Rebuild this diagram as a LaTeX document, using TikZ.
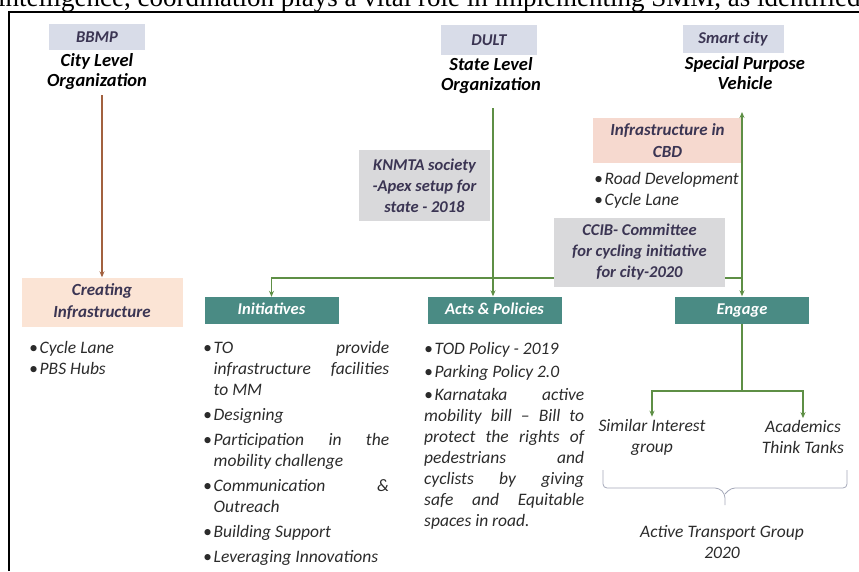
\documentclass[tikz,border=0pt]{standalone}
\usepackage{fontspec}
\setmainfont{Carlito}
\newfontfamily\pageserif{Liberation Serif}
\usepackage{xcolor}
\usetikzlibrary{arrows.meta, positioning}

\definecolor{hdrblue}{HTML}{D8DCE8}
\definecolor{hdrink}{HTML}{3B3553}
\definecolor{notegray}{HTML}{D9D9DB}
\definecolor{peach}{HTML}{FBE4D5}
\definecolor{rosepeach}{HTML}{F6D9CF}
\definecolor{tealbox}{HTML}{4A8B84}
\definecolor{linkgreen}{HTML}{5E8F45}
\definecolor{linkbrown}{HTML}{A2613F}
\definecolor{listink}{HTML}{2B2B2B}
\definecolor{bracegray}{HTML}{A4A8B8}

% bullet with hanging indent
\newcommand\bitem{\par\hangindent=10.5pt\hangafter=1\noindent\hbox to 10.5pt{\textbullet\hfil}}

\begin{document}
\begin{tikzpicture}[
    x=1pt, y=-1pt,
    every node/.style={inner sep=2pt},
    orghead/.style={rectangle, fill=hdrblue, text=hdrink, minimum width=96pt, minimum height=26pt, font=\fontsize{16.5}{19}\selectfont\bfseries\itshape},
    leveltitle/.style={align=center, font=\fontsize{18.5}{20}\selectfont\bfseries\itshape},
    notebox/.style={rectangle, fill=notegray, text=hdrink, align=center, font=\fontsize{16.5}{21}\selectfont\bfseries\itshape},
    infrabox/.style={rectangle, text=hdrink, align=center, font=\fontsize{17}{22}\selectfont\bfseries\itshape},
    actionbox/.style={rectangle, fill=tealbox, text=white, minimum width=134pt, minimum height=27pt, text height=12pt, text depth=3.5pt, font=\fontsize{16.5}{19}\selectfont\bfseries\itshape},
    bulletlist/.style={anchor=north west, inner sep=0pt, align=justify, text=listink, font=\fontsize{17.5}{21}\selectfont\itshape\setlength{\parskip}{#1}},
    bulletlist/.default=4pt,
    grouplabel/.style={align=center, text=listink, font=\fontsize{17.5}{21}\selectfont\itshape},
    arrow/.style={draw=linkgreen, line width=1.4pt, -{Stealth[length=6pt, width=5pt]}},
    twoway/.style={draw=linkgreen, line width=1.4pt, {Stealth[length=6pt, width=5pt]}-{Stealth[length=6pt, width=5pt]}},
    bracestroke/.style={draw=bracegray, line width=0.8pt, rounded corners=4pt}
]
\useasboundingbox (0,0) rectangle (859,571);

% running text of the page above the figure
\begin{scope}
\clip (0,0) rectangle (859,11);
\node (pagetext) [anchor=base west, inner sep=0pt, font=\pageserif\fontsize{27}{27}\selectfont] at (-2,6) {intelligence, coordination plays a vital role in implementing SMM, as identified};
\end{scope}
\draw [line width=1.2pt] (9,571) -- (9,12) -- (859,12);

% three organizations
\node (bbmp) [orghead] at (97,37) {BBMP};
\node (cityorg) [leveltitle, below=1pt of bbmp] {City Level\\Organization};
\node (dult) [orghead, minimum height=30pt] at (489,40) {DULT};
\node (stateorg) [leveltitle, below=0pt of dult, xshift=2pt] {State Level\\Organization};
\node (smart) [orghead, minimum width=101pt, minimum height=28pt] at (733,39) {Smart city};
\node (spv) [leveltitle] at (745,73) {Special Purpose\\Vehicle};

% city level
\node (cityinfra) [infrabox, fill=peach, minimum width=161pt, minimum height=49pt] at (102,302) {Creating\\Infrastructure};
\node (citylist) [bulletlist=0pt, text width=100pt] at (29,332) {\bitem Cycle Lane\bitem PBS Hubs};

% state level
\node (knmta) [notebox, minimum width=131pt, minimum height=71pt] at (424.5,185.5) {KNMTA society\\-Apex setup for\\state - 2018};

% special purpose vehicle
\node (cbd) [infrabox, fill=rosepeach, minimum width=149pt, minimum height=45pt] at (667.5,140.5) {Infrastructure in\\CBD};
\node (cbdlist) [bulletlist=0pt, text width=160pt] at (594,163) {\bitem Road Development\bitem Cycle Lane};

\node (initiatives) [actionbox] at (271.5,310.5) {Initiatives};
\node (acts) [actionbox] at (494.5,310) {Acts \& Policies};
\node (engage) [actionbox] at (742,310) {Engage};

\node (initlist) [bulletlist, text width=186pt] at (203,328) {%
\bitem TO provide\linebreak infrastructure facilities\linebreak to MM
\bitem Designing
\bitem Participation in the\linebreak mobility challenge
\bitem Communication \&\linebreak Outreach
\bitem Building Support
\bitem Leveraging Innovations};
\node (actslist) [bulletlist=2pt, text width=160pt] at (424,331) {%
\bitem TOD Policy - 2019
\bitem Parking Policy 2.0
\bitem Karnataka active\linebreak mobility bill – Bill to\linebreak protect the rights of\linebreak pedestrians and\linebreak cyclists by giving\linebreak safe and Equitable\linebreak spaces in road.};

\node (simgroup) [grouplabel] at (652,437) {Similar Interest\\group};
\node (academics) [grouplabel] at (803,437) {Academics\\Think Tanks};
\node (atg) [grouplabel] at (722,542) {Active Transport Group\\2020};

% connectors
\coordinate (brownstart) at (102,95);
\coordinate (dultfoot) at (493,108);
\coordinate (busend) at (742,278);
\coordinate (spvfoot) at (742,112);
\coordinate (fork) at (742,391);
\draw [arrow, draw=linkbrown] (brownstart) -- (cityinfra.north);
\draw [arrow] (dultfoot) -- (dultfoot |- acts.north);
\draw [arrow] (busend) -| (initiatives.north);
\draw [twoway] (spvfoot) -- (engage.north);
\draw [draw=linkgreen, line width=1.4pt] (engage.south) -- (fork);
\draw [arrow] (fork) -| (simgroup.north);
\draw [arrow] (fork) -| (academics.north);

\node (ccib) [notebox, minimum width=171pt, minimum height=69pt] at (639.5,252.5) {CCIB- Committee\\for cycling initiative\\for city-2020};

% brace under the two groups
\coordinate (bracel) at (603,470);
\coordinate (bracer) at (847,470);
\coordinate (bracetip) at (725,505);
\draw [bracestroke] (bracel) -- (603,488) -- (719,488) -- (725,494) -- (bracetip);
\draw [bracestroke] (bracer) -- (847,488) -- (731,488) -- (725,494);
\end{tikzpicture}
\end{document}
